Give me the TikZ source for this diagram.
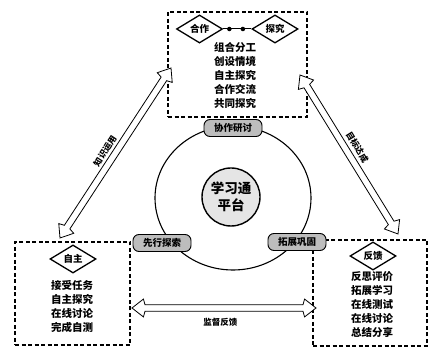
\documentclass[tikz,border=0pt]{standalone}
\usepackage{fontspec}
\setmainfont{Noto Sans CJK SC}
\usetikzlibrary{shapes.geometric,calc}
\newcommand\myharrow[2]{%
  \draw[hollowarr] (#1)
    -- ($(#1)!14.5pt!38:(#2)$) -- ($(#1)!13.4pt!14.3:(#2)$)
    -- ($(#2)!13.4pt!-14.3:(#1)$) -- ($(#2)!14.5pt!-38:(#1)$)
    -- (#2)
    -- ($(#2)!14.5pt!38:(#1)$) -- ($(#2)!13.4pt!14.3:(#1)$)
    -- ($(#1)!13.4pt!-14.3:(#2)$) -- ($(#1)!14.5pt!-38:(#2)$)
    -- cycle;}
\begin{document}
\begin{tikzpicture}[x=1pt,y=-1pt,
  dbox/.style={draw, dash pattern=on 4pt off 2.5pt, line width=1.1pt, inner sep=0pt},
  dia/.style={diamond, draw, line width=1.3pt, minimum width=46pt, minimum height=24pt, inner sep=0pt, font=\bfseries\fontsize{9.5}{9.5}\selectfont},
  pill/.style={draw, rounded corners=6pt, fill=black!26, line width=0.9pt, minimum width=58pt, minimum height=17pt, inner sep=1pt, font=\bfseries\fontsize{9.5}{10}\selectfont},
  txt/.style={align=center, inner sep=0pt, font=\bfseries\fontsize{10.5}{14}\selectfont},
  hollowarr/.style={draw=black, fill=white, line width=0.8pt, line join=miter},
  lab/.style={inner sep=1pt, font=\bfseries\fontsize{8.5}{9}\selectfont}
]
\useasboundingbox (0,0) rectangle (429,347);
% boxes
\node[dbox, minimum width=139pt, minimum height=105pt] (topbox) at (237.5,64.5) {};
\node[dbox, minimum width=115pt, minimum height=103pt] (leftbox) at (72.5,293.5) {};
\node[dbox, minimum width=114pt, minimum height=106pt] (rightbox) at (370,293) {};
% diamonds
\node[dia] (hz) at (199.5,29) {合作};
\node[dia] (tj) at (275,29) {探究};
\node[dia] (zz) at (73,259) {自主};
\node[dia] (fk) at (373,256) {反馈};
\draw[line width=1pt] (hz.east) -- (tj.west)
  node[pos=0.22, circle, fill, inner sep=1.6pt] (d1) {}
  node[pos=0.7, circle, fill, inner sep=1.6pt] (d2) {};
% box texts
\node[txt] (ttop) at (235,75) {组合分工\\创设情境\\自主探究\\合作交流\\共同探究};
\node[txt] (tleft) at (72,307) {接受任务\\自主探究\\在线讨论\\完成自测};
\node[txt] (tright) at (372,305) {反思评价\\拓展学习\\在线测试\\在线讨论\\总结分享};
% ring
\node[ellipse, draw, line width=1.1pt, minimum width=156pt, minimum height=144pt, inner sep=0pt] (ring) at (233,198) {};
\node[circle, draw, line width=1.4pt, fill=black!10, minimum size=58pt, inner sep=0pt, align=center, font=\bfseries\fontsize{13.5}{17}\selectfont] (plat) at (231,197) {学习通\\平台};
\node[pill] (xz) at (233,128) {协作研讨};
\node[pill] (xx) at (162,243) {先行探索};
\node[pill] (tz) at (297,242) {拓展巩固};
% arrows
\coordinate (a1) at (60,238);
\coordinate (a2) at (171,68);
\coordinate (b1) at (300,75);
\coordinate (b2) at (398,234);
\coordinate (c1) at (132,308);
\coordinate (c2) at (316,308);
\myharrow{a1}{a2}
\myharrow{b1}{b2}
\myharrow{c1}{c2}
\path (a1) -- (a2) node[lab, pos=0.48, sloped, above=4.5pt] (l1) {知识运用};
\path (b1) -- (b2) node[lab, pos=0.49, sloped, above=5.5pt] (l2) {目标达成};
\path (c1) -- (c2) node[lab, pos=0.48, below=9pt] (l3) {监督反馈};
\end{tikzpicture}
\end{document}
